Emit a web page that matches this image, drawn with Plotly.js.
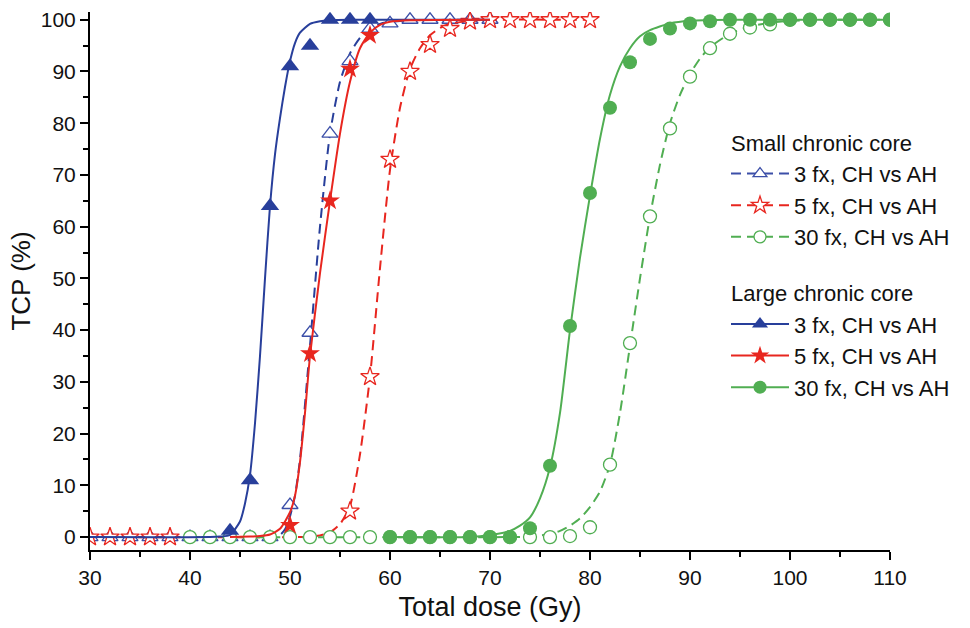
<!DOCTYPE html>
<html>
<head>
<meta charset="utf-8">
<script src="https://cdn.plot.ly/plotly-3.0.1.min.js"></script>
<style>html,body{margin:0;padding:0;background:#fff;}#chart{width:970px;height:628px;}</style>
</head>
<body>
<div id="chart"></div>
<script>
// ---- Data ----
// Small chronic core (open markers, dashed fitted curves)
const small3Dose = [30,32,34,36,38,40,42,44,46,48,50,52,54,56,58,60,62,64,66,68,70];
const small3Tcp  = [0,0,0,0,0,0,0,0,0,0,6.2,39.5,78,92,98.3,99.3,100,100,100,100,100];
const small3CurveDose = [30,40,48,49,49.5,50,50.5,51,52,53,54,55,56,57,58,59,60,62,70];
const small3CurveTcp  = [0,0,0.1,0.4,1.5,4,8,15,37,60,78,88,93.5,96.5,98.3,99.2,99.6,99.9,100];

const small5Dose = [30,32,34,36,38,56,58,60,62,64,66,68,70,72,74,76,78,80];
const small5Tcp  = [0,0,0,0,0,5,31,73,90,95.2,98.3,99.7,100,100,100,100,100,100];
const small5CurveDose = [30,50,52,53,54,55,56,57,58,59,60,61,62,63,64,65,66,68,70,80];
const small5CurveTcp  = [0,0,0.1,0.3,0.9,2.5,6,16,31,52,71,83,90.5,94.5,97,98.4,99.2,99.8,100,100];

const small30Dose = [40,42,44,46,48,50,52,54,56,58,60,62,64,66,68,70,72,74,76,78,80,82,84,86,88,90,92,94,96,98,100,102,104,106,108,110];
const small30Tcp  = [0,0,0,0,0,0,0,0,0,0,0,0,0,0,0,0,0,0,0,0.2,1.9,14,37.5,62,79,89,94.5,97.3,98.5,99.1,100,100,100,100,100,100];
const small30CurveDose = [40,72,74,76,77,78,79,80,81,82,83,84,85,86,87,88,89,90,91,92,94,96,98,100,104,110];
const small30CurveTcp  = [0,0,0.1,0.6,1.2,2.2,3.6,5.8,8.8,14,24,37,50,62,72,80,85.5,89.5,92.5,94.7,97.3,98.7,99.4,99.8,100,100];

// Large chronic core (filled markers, solid fitted curves)
const large3Dose = [44,46,48,50,52,54,56,58];
const large3Tcp  = [1.2,11,64,91,95,100,100,100];
const large3CurveDose = [30,42,43,44,45,45.5,46,46.5,47,47.5,48,48.5,49,49.5,50,50.5,51,52,53,54,56,60,70];
const large3CurveTcp  = [0,0,0.1,0.4,3,6.5,12,22,35,50,64,74,81,87,92,95.5,97.5,99.2,99.7,99.9,100,100,100];

const large5Dose = [50,52,54,56,58];
const large5Tcp  = [2.3,35.5,65,90.5,97];
const large5CurveDose = [44,46,47,48,49,50,50.5,51,51.5,52,53,54,55,56,57,58,59,60,62,70];
const large5CurveTcp  = [0,0.1,0.2,0.5,1.6,4.8,8,14.5,24,35,51,65,78,88,94.5,97.5,99,99.6,99.9,100];

const large30Dose = [60,62,64,66,68,70,72,74,76,78,80,82,84,86,88,90,92,94,96,98,100,102,104,106,108,110];
const large30Tcp  = [0,0,0,0,0,0,0,1.7,13.8,40.8,66.5,83,91.8,96.3,98.3,99.3,99.7,100,100,100,100,100,100,100,100,100];
const large30CurveDose = [60,68,70,72,73,74,75,76,77,78,79,80,81,82,83,84,85,86,88,90,94,110];
const large30CurveTcp  = [0,0,0.4,1.2,2.2,3.8,7.5,13.5,24,40,54,66,77,85.5,91,94.5,96.8,98,99.3,99.8,100,100];

const groupTitles = ["Small chronic core", "Large chronic core"];
const seriesLabels = ["3 fx, CH vs AH", "5 fx, CH vs AH", "30 fx, CH vs AH"];

// ---- Styles ----
const BLUE = "#283f9b", RED = "#e8261f", GREEN = "#50ae52";
const DASH = "10px,6px";
const LW = 2;
const LEGEND_FONT = 22;

function curve(x, y, color, dash) {
  return {x: x, y: y, type: "scatter", mode: "lines", showlegend: false, hoverinfo: "skip",
          line: {color: color, width: LW, dash: dash, shape: "spline", smoothing: 0.6}};
}
function marks(x, y, symbol, color, open, size) {
  return {x: x, y: y, type: "scatter", mode: "markers", showlegend: false,
          marker: {symbol: symbol, size: size, color: open ? "#ffffff" : color,
                   line: {color: color, width: open ? 1.3 : 0}}};
}
function legendItem(group, gtitle, label, symbol, color, open, dash, size) {
  return {x: [null], y: [null], type: "scatter", mode: "lines+markers", name: label,
          legendgroup: group, legendgrouptitle: {text: gtitle, font: {size: LEGEND_FONT, color: "#111"}},
          line: {color: color, width: LW, dash: dash},
          marker: {symbol: symbol, size: size, color: open ? "#ffffff" : color,
                   line: {color: color, width: open ? 1.3 : 0}}};
}

const traces = [
  curve(small3CurveDose, small3CurveTcp, BLUE, DASH),
  marks(small3Dose, small3Tcp, "triangle-up", "#3c4fa8", true, 14),
  curve(small5CurveDose, small5CurveTcp, RED, DASH),
  marks(small5Dose, small5Tcp, "star", RED, true, 14),
  curve(small30CurveDose, small30CurveTcp, GREEN, DASH),
  marks(small30Dose, small30Tcp, "circle", GREEN, true, 13),
  curve(large3CurveDose, large3CurveTcp, BLUE, "solid"),
  marks(large3Dose, large3Tcp, "triangle-up", BLUE, false, 16),
  curve(large5CurveDose, large5CurveTcp, RED, "solid"),
  marks(large5Dose, large5Tcp, "star", RED, false, 15),
  curve(large30CurveDose, large30CurveTcp, GREEN, "solid"),
  marks(large30Dose, large30Tcp, "circle", GREEN, false, 14),
  legendItem("small", groupTitles[0], seriesLabels[0], "triangle-up", "#3c4fa8", true, DASH, 12),
  legendItem("small", groupTitles[0], seriesLabels[1], "star", RED, true, DASH, 13),
  legendItem("small", groupTitles[0], seriesLabels[2], "circle", GREEN, true, DASH, 12),
  legendItem("large", groupTitles[1], seriesLabels[0], "triangle-up", BLUE, false, "solid", 14),
  legendItem("large", groupTitles[1], seriesLabels[1], "star", RED, false, "solid", 14),
  legendItem("large", groupTitles[1], seriesLabels[2], "circle", GREEN, false, "solid", 13)
];

const FONT = "Liberation Sans, Arial, Helvetica, sans-serif";
const layout = {
  width: 970, height: 628,
  margin: {l: 90, r: 80, t: 12, b: 78},
  paper_bgcolor: "#ffffff", plot_bgcolor: "#ffffff",
  font: {family: FONT, color: "#111"},
  showlegend: true,
  legend: {x: 0.795, y: 0.797, xanchor: "left", yanchor: "top", bgcolor: "rgba(0,0,0,0)",
           font: {size: LEGEND_FONT, color: "#111"}, traceorder: "grouped", tracegroupgap: 24,
           itemwidth: 58},
  xaxis: {range: [30, 110], dtick: 10, tick0: 30, showgrid: false, zeroline: false,
          showline: true, linecolor: "#000", linewidth: 2, mirror: false,
          ticks: "outside", ticklen: 8, tickwidth: 2, tickcolor: "#000",
          minor: {dtick: 5, ticks: "outside", ticklen: 5, tickwidth: 2, tickcolor: "#000"},
          tickfont: {size: 21, color: "#111"},
          title: {text: "Total dose (Gy)", font: {size: 27, color: "#111"}, standoff: 9}},
  yaxis: {range: [-2.5, 101.5], dtick: 10, tick0: 0, showgrid: false, zeroline: false,
          showline: true, linecolor: "#000", linewidth: 2, mirror: false,
          ticks: "outside", ticklen: 8, tickwidth: 2, tickcolor: "#000",
          minor: {dtick: 5, ticks: "outside", ticklen: 5, tickwidth: 2, tickcolor: "#000"},
          tickfont: {size: 21, color: "#111"},
          title: {text: "TCP (%)", font: {size: 26, color: "#111"}, standoff: 3}}
};

Plotly.newPlot("chart", traces, layout, {displayModeBar: false, staticPlot: true});
</script>
</body>
</html>
